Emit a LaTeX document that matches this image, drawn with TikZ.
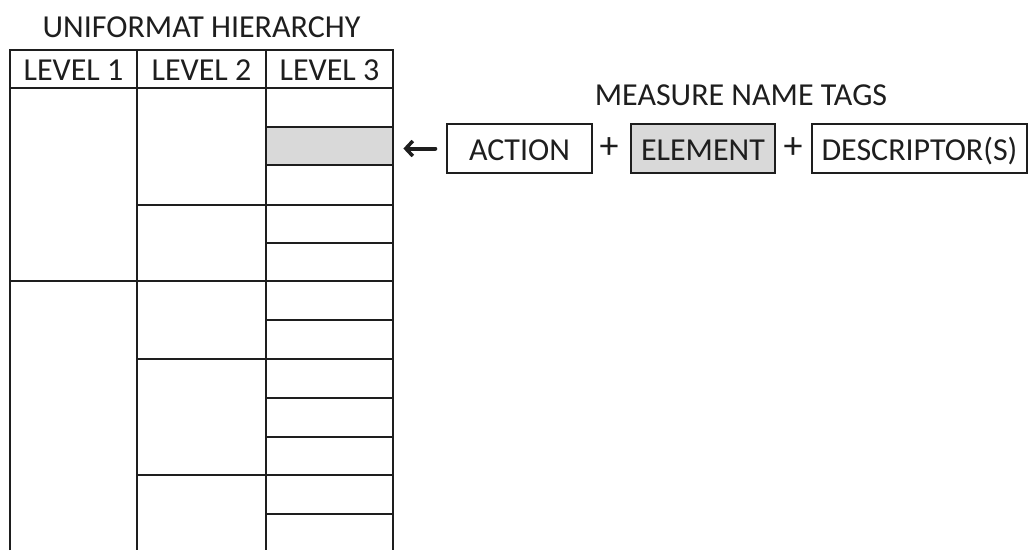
\documentclass[tikz,border=0pt]{standalone}
\usepackage{fontspec}
\setmainfont{Carlito}
\usetikzlibrary{arrows.meta}
\definecolor{ink}{HTML}{1E1E1E}
\definecolor{cellgray}{HTML}{D9D9D9}
\begin{document}
\begin{tikzpicture}[x=1pt,y=-1pt,
  every node/.style={font=\fontsize{32}{32}\selectfont, text=ink},
  gridline/.style={draw=ink, line width=2pt},
  label/.style={anchor=base, inner sep=0pt},
  tagbox/.style={draw=ink, line width=1.4pt, inner sep=0pt, minimum height=49pt,
                 text height=23pt, text depth=0pt},
  graycell/.style={fill=cellgray, inner sep=0pt, minimum width=127pt, minimum height=38pt},
  plus/.style={inner sep=0pt, font=\fontsize{38}{38}\selectfont},
  pointer/.style={draw=ink, line width=4pt, line cap=round,
                  -{Straight Barb[length=7pt,width=15pt,line width=3.5pt]}}
]
\useasboundingbox (0,0) rectangle (1029,550);

% highlighted level 3 entry
\node[graycell, anchor=north west] (elemcell) at (266,127) {};

% titles
\node[label] (hiertitle) at (201.5,37) {UNIFORMAT HIERARCHY};
\node[label] (tagtitle) at (741,105) {MEASURE NAME TAGS};

% header row
\node[label] (lvl1) at (73.5,80) {LEVEL 1};
\node[label] (lvl2) at (201.5,80) {LEVEL 2};
\node[label] (lvl3) at (329.5,80) {LEVEL 3};

% table frame and column rules
\draw[gridline] (10,550) -- (10,50) -- (393,50) -- (393,550);
\draw[gridline] (137,50) -- (137,550);
\draw[gridline] (266,50) -- (266,550);
\draw[gridline] (10,88) -- (393,88);
% level 1 split
\draw[gridline] (10,281) -- (393,281);
% level 2 splits
\foreach \yy in {205,359,475} \draw[gridline] (137,\yy) -- (393,\yy);
% level 3 splits
\foreach \yy in {127,165,243,320,398,437,514} \draw[gridline] (266,\yy) -- (393,\yy);

% measure name tags
\node[tagbox, minimum width=145pt] (action) at (519.5,148.5) {ACTION};
\node[plus] (plus1) at (609,148) {+};
\node[tagbox, fill=cellgray, minimum width=144pt] (element) at (703,148.5) {ELEMENT};
\node[plus] (plus2) at (793,148) {+};
\node[tagbox, minimum width=215pt] (descr) at (919.5,148.5) {DESCRIPTOR(S)};

% link from the tag to the hierarchy entry
\draw[pointer, shorten <=11pt, shorten >=10pt] (action.west) -- (action.west -| elemcell.east);
\end{tikzpicture}
\end{document}
